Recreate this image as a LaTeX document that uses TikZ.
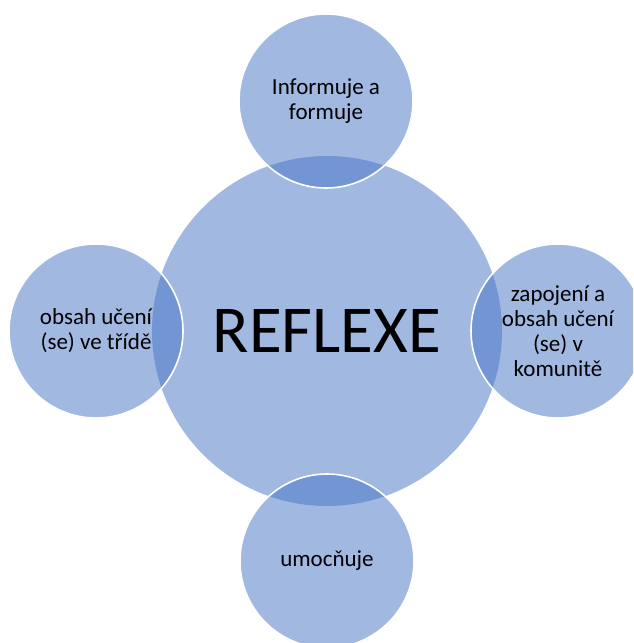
\documentclass[tikz,border=0pt]{standalone}
\usepackage{fontspec}
\setmainfont{Carlito}
\definecolor{accent}{HTML}{4472C4}
\begin{document}
\begin{tikzpicture}[x=1pt,y=1pt,
  bubble/.style={circle, inner sep=0pt, fill=accent, fill opacity=0.5, text opacity=1, text=black, align=center},
  hub/.style={bubble, minimum size=350pt, font=\fontsize{67}{70}\selectfont},
  sat/.style={bubble, minimum size=174pt, draw=white, draw opacity=1, line width=1.6pt, font=\fontsize{23}{25}\selectfont}]
\useasboundingbox (0,0) rectangle (633,643);
\clip (0,0) rectangle (633,643);
\node[hub] (c) at (327,312) {REFLEXE};
\node[sat] (t) at (326,542) {Informuje a\\formuje};
\node[sat] (r) at (558,312) {zapojení a\\obsah učení\\(se) v\\komunitě};
\node[sat] (b) at (327,82) {umocňuje};
\node[sat] (l) at (96,312) {obsah učení\\(se) ve třídě};
\end{tikzpicture}
\end{document}
